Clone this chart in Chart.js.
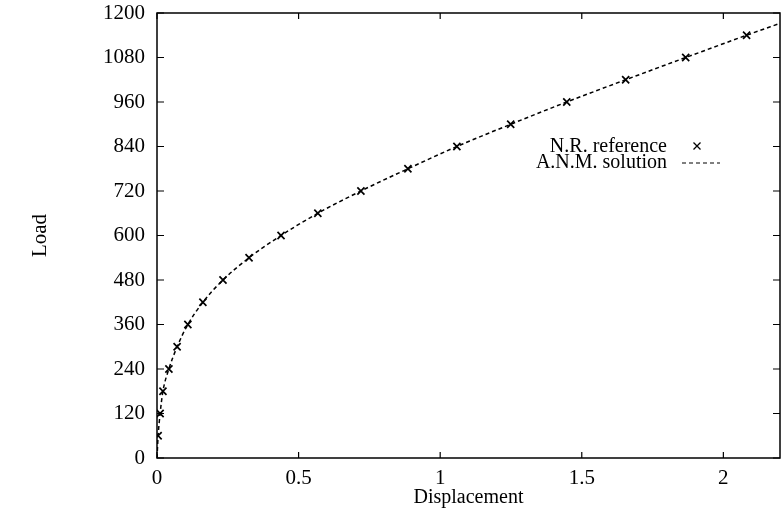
<!DOCTYPE html>
<html>
<head>
<meta charset="utf-8">
<script src="https://cdn.jsdelivr.net/npm/chart.js@4"></script>
<style>
  html, body { margin: 0; padding: 0; background: #fff; }
  #wrap { width: 781px; height: 520px; }
</style>
</head>
<body>
<div id="wrap"><canvas id="chart" width="781" height="520"></canvas></div>
<script>
// N.R. reference points (markers)
const nrDisp = [0.004, 0.011, 0.021, 0.042, 0.071, 0.109, 0.162, 0.233, 0.325, 0.438,
                0.568, 0.720, 0.886, 1.059, 1.249, 1.447, 1.655, 1.867, 2.082];
const nrLoad = [60, 120, 180, 240, 300, 360, 420, 480, 540, 600,
                660, 720, 780, 840, 900, 960, 1020, 1080, 1140];

// A.N.M. solution curve (dashed)
const anmDisp = [0, 0.004, 0.011, 0.021, 0.042, 0.071, 0.109, 0.162, 0.233, 0.325, 0.438,
                 0.568, 0.720, 0.886, 1.059, 1.249, 1.447, 1.655, 1.867, 2.082, 2.2];
const anmLoad = [0, 60, 120, 180, 240, 300, 360, 420, 480, 540, 600,
                 660, 720, 780, 840, 900, 960, 1020, 1080, 1140, 1172];

const xTickStep = 0.5;
const yTickStep = 120;

const toPoints = (xs, ys) => xs.map((x, i) => ({ x: x, y: ys[i] }));

Chart.defaults.font.family = '"Liberation Serif", "DejaVu Serif", serif';
Chart.defaults.font.size = 20;
Chart.defaults.color = '#000';

// frame with inward ticks on all four sides, gnuplot style
const framePlugin = {
    id: 'frame',
    afterDatasetsDraw(chart) {
        const ctx = chart.ctx;
        const a = chart.chartArea;
        const xs = chart.scales.x, ys = chart.scales.y;
        ctx.save();
        ctx.strokeStyle = '#000';
        ctx.lineWidth = 1.5;
        ctx.strokeRect(a.left, a.top, a.right - a.left, a.bottom - a.top);
        ctx.lineWidth = 1.2;
        ctx.beginPath();
        xs.ticks.forEach(t => {
            const px = xs.getPixelForValue(t.value);
            ctx.moveTo(px, a.bottom); ctx.lineTo(px, a.bottom - 6);
            ctx.moveTo(px, a.top); ctx.lineTo(px, a.top + 6);
        });
        ys.ticks.forEach(t => {
            const py = ys.getPixelForValue(t.value);
            ctx.moveTo(a.left, py); ctx.lineTo(a.left + 7, py);
            ctx.moveTo(a.right, py); ctx.lineTo(a.right - 7, py);
        });
        ctx.stroke();
        ctx.restore();
    }
};

// legend inside the plot: text right aligned, sample on the right
const insideLegend = {
    id: 'insideLegend',
    afterDraw(chart) {
        const ctx = chart.ctx;
        const textRight = 667, sampleX = 682, sampleW = 38;
        const rows = [152, 168];
        ctx.save();
        ctx.font = '20px "Liberation Serif", serif';
        ctx.fillStyle = '#000';
        ctx.textAlign = 'right';
        ctx.textBaseline = 'alphabetic';
        chart.data.datasets.forEach((ds, i) => {
            const y = rows[i];
            ctx.fillText(ds.label, textRight, y);
            ctx.strokeStyle = '#000';
            if (ds.showLine === false) {
                const cx = sampleX + 15, cy = y - 6, r = 3.5;
                ctx.lineWidth = 1.3;
                ctx.beginPath();
                ctx.moveTo(cx - r, cy - r); ctx.lineTo(cx + r, cy + r);
                ctx.moveTo(cx - r, cy + r); ctx.lineTo(cx + r, cy - r);
                ctx.stroke();
            } else {
                ctx.lineWidth = 1.2;
                ctx.setLineDash(ds.borderDash);
                ctx.beginPath();
                ctx.moveTo(sampleX, y - 5); ctx.lineTo(sampleX + sampleW, y - 5);
                ctx.stroke();
                ctx.setLineDash([]);
            }
        });
        ctx.restore();
    }
};

new Chart(document.getElementById('chart'), {
    type: 'scatter',
    data: {
        datasets: [
            {
                label: 'N.R. reference',
                data: toPoints(nrDisp, nrLoad),
                showLine: false,
                pointStyle: 'crossRot',
                pointRadius: 5,
                pointBorderWidth: 1.7,
                borderColor: '#000',
                backgroundColor: '#000'
            },
            {
                label: 'A.N.M. solution',
                data: toPoints(anmDisp, anmLoad),
                showLine: true,
                borderColor: '#000',
                borderWidth: 1.5,
                borderDash: [4, 3],
                pointRadius: 0,
                cubicInterpolationMode: 'monotone'
            }
        ]
    },
    options: {
        responsive: false,
        animation: false,
        layout: { autoPadding: false, padding: { top: 13, right: 1, left: 0, bottom: 0 } },
        plugins: {
            legend: { display: false },
            tooltip: { enabled: false }
        },
        scales: {
            x: {
                type: 'linear',
                min: 0,
                max: 2.2,
                grid: { display: false, drawTicks: false },
                border: { display: false },
                ticks: { stepSize: xTickStep, includeBounds: false, padding: 8, maxRotation: 0,
                         font: { size: 21 }, callback: v => String(v) },
                title: { display: true, text: 'Displacement', font: { size: 20 },
                         padding: { top: 0, bottom: 10 } },
                afterFit(scale) { scale.height = 62; scale.paddingLeft = 0; scale.paddingRight = 0; }
            },
            y: {
                type: 'linear',
                min: 0,
                max: 1200,
                grid: { display: false, drawTicks: false },
                border: { display: false },
                ticks: { stepSize: yTickStep, padding: 12, font: { size: 21 },
                         callback: v => String(v) },
                title: { display: true, text: 'Load', font: { size: 21 },
                         padding: { top: 28, bottom: 0 } },
                afterFit(scale) { scale.width = 157; scale.paddingTop = 0; scale.paddingBottom = 0; }
            }
        }
    },
    plugins: [framePlugin, insideLegend]
});
</script>
</body>
</html>
